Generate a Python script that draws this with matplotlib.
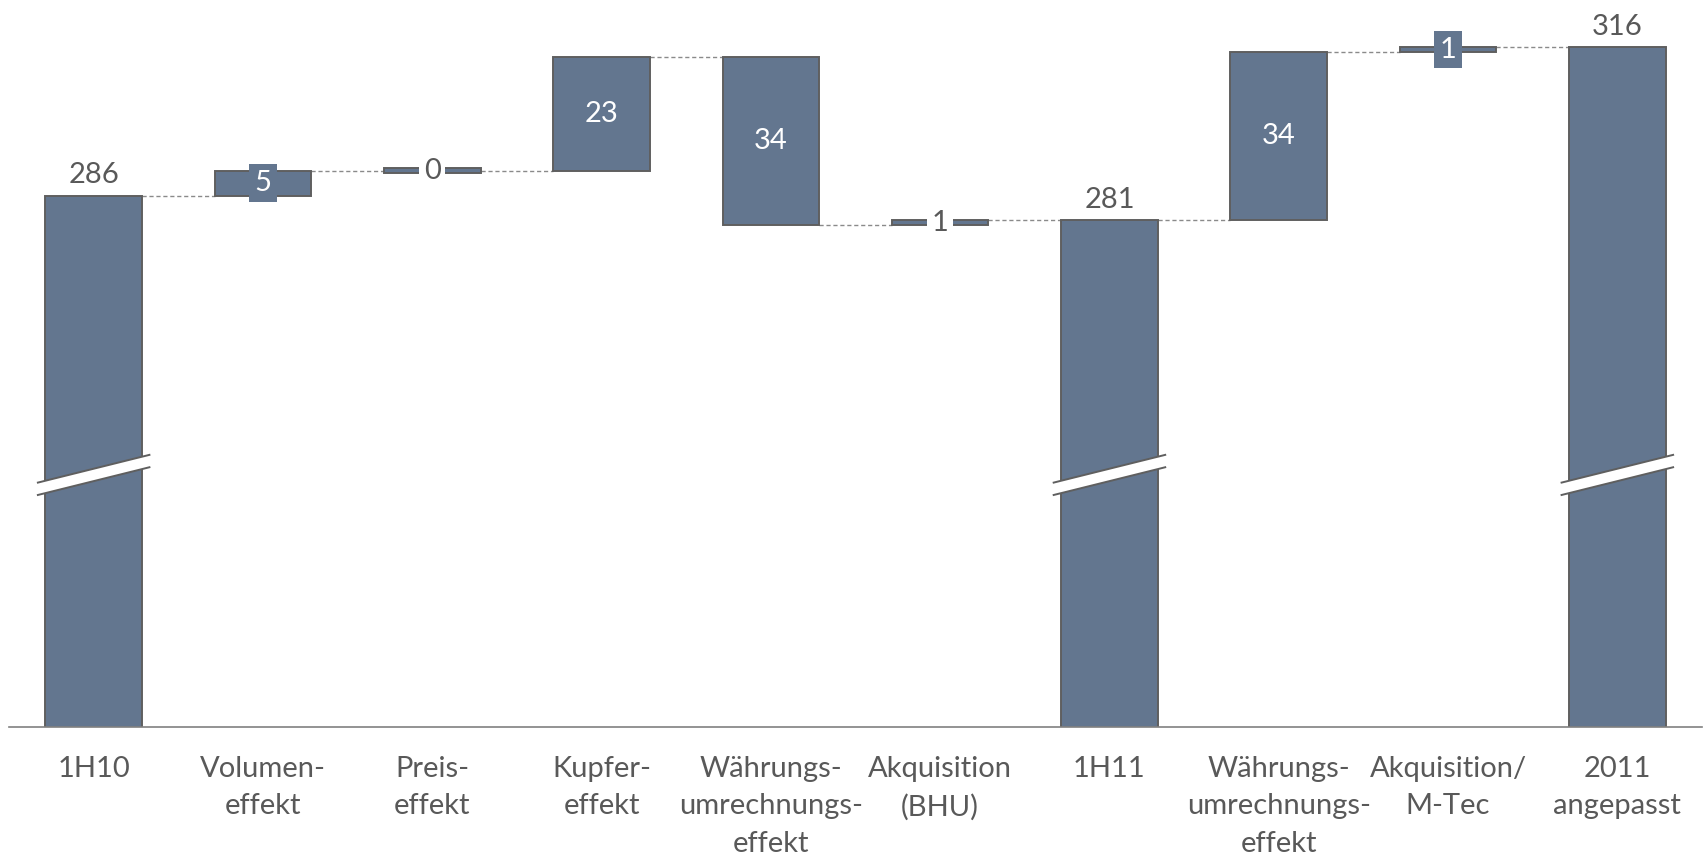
import matplotlib
matplotlib.use("Agg")
import matplotlib.pyplot as plt
from matplotlib import font_manager

# ---------------- data ----------------
categories = ["1H10", "Volumen-\neffekt", "Preis-\neffekt", "Kupfer-\neffekt",
              "Währungs-\numrechnungs-\neffekt", "Akquisition\n(BHU)", "1H11",
              "Währungs-\numrechnungs-\neffekt", "Akquisition/\nM-Tec",
              "2011\nangepasst"]
values = [286, 5, 0, 23, -34, 1, 281, 34, 1, 316]
is_total = [True, False, False, False, False, False, True, False, False, True]

# ---------------- style ----------------
label_style = ["above", "box", "gap", "inside", "inside", "gap",
               "above", "inside", "box", "above"]
BAR_COLOR = "#63768f"
EDGE_COLOR = "#5f5f5f"
TEXT_COLOR = "#595959"
CONN_COLOR = "#8a8a8a"
Y_MIN, Y_MAX = 178.8, 325.5
BAR_W = 0.57
MIN_H = 1.0
BREAK_Y = 229.6
BREAK_HALF = 1.25
BREAK_SLOPE = 8.5
BREAK_HALFLEN = 0.335
FS = 21

names = {f.name for f in font_manager.fontManager.ttflist}
font = "Lato" if "Lato" in names else "DejaVu Sans"
plt.rcParams["font.family"] = [font, "DejaVu Sans"]

fig = plt.figure(figsize=(17.05, 8.59), dpi=100)
ax = fig.add_axes([9 / 1705, 1 - 726.5 / 859, (1702 - 9) / 1705, 726.5 / 859])
ax.set_xlim(-0.5, len(values) - 0.5)
ax.set_ylim(Y_MIN, Y_MAX)

level = 0.0
prev_end = None
for i, (v, tot) in enumerate(zip(values, is_total)):
    if tot:
        lo, h = Y_MIN - 2, v - (Y_MIN - 2)
        start, end = v, v
    else:
        start, end = level, level + v
        lo, h = min(start, end), abs(v)
        if h < MIN_H:
            lo = (start + end) / 2 - MIN_H / 2
            h = MIN_H
    ax.bar(i, h, bottom=lo, width=BAR_W, color=BAR_COLOR,
           edgecolor=EDGE_COLOR, linewidth=1.4, zorder=3)
    # connector
    if prev_end is not None:
        ax.plot([i - 1 + BAR_W / 2, i - BAR_W / 2], [prev_end, prev_end],
                color=CONN_COLOR, lw=1.0, ls=(0, (3, 2)), zorder=2)
    # labels
    txt = str(abs(v))
    style = label_style[i]
    mid = lo + h / 2
    if style == "above":
        ax.annotate(txt, (i, v), xytext=(0, 9), textcoords="offset points",
                    ha="center", va="baseline", fontsize=FS, color=TEXT_COLOR,
                    zorder=5)
    elif style == "inside":
        ax.text(i, mid, txt, ha="center", va="center", fontsize=FS,
                color="white", zorder=5)
    elif style == "box":
        ax.text(i, mid, txt, ha="center", va="center", fontsize=FS,
                color="white", zorder=5,
                bbox=dict(boxstyle="square,pad=0.2", fc=BAR_COLOR, ec="none"))
    elif style == "gap":
        ax.text(i, mid, txt, ha="center", va="center", fontsize=FS,
                color=TEXT_COLOR, zorder=5,
                bbox=dict(boxstyle="square,pad=0.15", fc="white", ec="none"))
    # axis break on total bars
    if tot:
        xs = [i - BREAK_HALFLEN, i + BREAK_HALFLEN]
        yc = [BREAK_Y - BREAK_SLOPE * BREAK_HALFLEN,
              BREAK_Y + BREAK_SLOPE * BREAK_HALFLEN]
        ax.fill([xs[0], xs[1], xs[1], xs[0]],
                [yc[0] - BREAK_HALF, yc[1] - BREAK_HALF,
                 yc[1] + BREAK_HALF, yc[0] + BREAK_HALF],
                color="white", zorder=4, lw=0)
        for s in (-1, 1):
            ax.plot(xs, [y + s * BREAK_HALF for y in yc], color=EDGE_COLOR,
                    lw=1.4, zorder=4, solid_capstyle="butt")
    level = end
    prev_end = end

ax.set_xticks(range(len(categories)))
ax.set_xticklabels(categories, fontsize=FS, color=TEXT_COLOR, linespacing=1.55)
ax.tick_params(axis="x", length=0, pad=21)
ax.set_yticks([])
for sp in ("top", "left", "right"):
    ax.spines[sp].set_visible(False)
ax.spines["bottom"].set_color("#808080")
ax.spines["bottom"].set_linewidth(1.2)
ax.spines["bottom"].set_zorder(6)

fig.savefig("out.png", dpi=100, facecolor="white")
